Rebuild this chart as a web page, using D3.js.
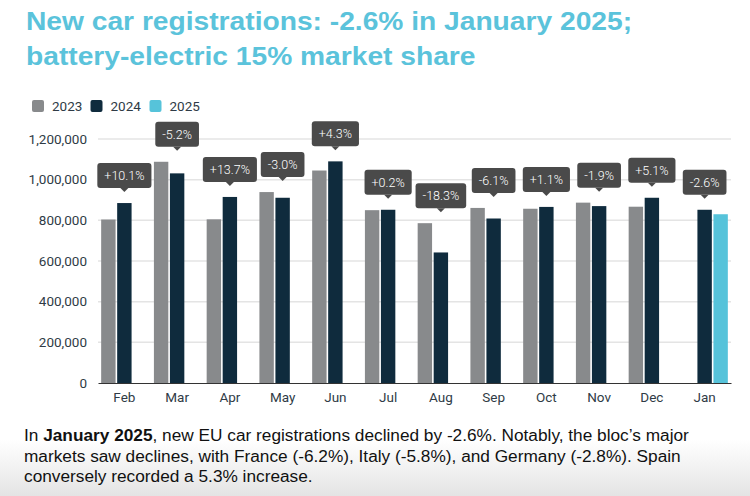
<!DOCTYPE html>
<html>
<head>
<meta charset="utf-8">
<script src="https://cdn.jsdelivr.net/npm/d3@7"></script>
<style>
  html, body { margin: 0; padding: 0; background: #fff; }
  svg { display: block; }
</style>
</head>
<body>
<div id="chart"></div>
<script>
// chart data
const months = ["Feb", "Mar", "Apr", "May", "Jun", "Jul", "Aug", "Sep", "Oct", "Nov", "Dec", "Jan"];
const series = ["2023", "2024", "2025"];
const values2023 = [804000, 1088000, 805000, 939000, 1045000, 850000, 786000, 861000, 857000, 887000, 867000, null];
const values2024 = [885000, 1031000, 915000, 911000, 1090000, 852000, 642000, 809000, 866000, 870000, 911000, 852000];
const values2025 = [null, null, null, null, null, null, null, null, null, null, null, 830000];
const changes = ["+10.1%", "-5.2%", "+13.7%", "-3.0%", "+4.3%", "+0.2%", "-18.3%", "-6.1%", "+1.1%", "-1.9%", "+5.1%", "-2.6%"];
const yTicks = [0, 200000, 400000, 600000, 800000, 1000000, 1200000];

const titleLines = ["New car registrations: -2.6% in January 2025;", "battery-electric 15% market share"];

const width = 750, height = 496;
const margin = { top: 139, right: 19, bottom: 113, left: 98 };
const colors = { "2023": "#888a8c", "2024": "#0f2b3d", "2025": "#56c3da" };

const svg = d3.select("#chart").append("svg")
  .attr("width", width)
  .attr("height", height);

// faint grey fade at the bottom
const defs = svg.append("defs");
const grad = defs.append("linearGradient")
  .attr("id", "fade").attr("x1", 0).attr("x2", 0).attr("y1", 0).attr("y2", 1);
grad.append("stop").attr("offset", "0%").attr("stop-color", "#ffffff");
grad.append("stop").attr("offset", "100%").attr("stop-color", "#e4e4e4");
svg.append("rect")
  .attr("x", 0).attr("y", 440).attr("width", width).attr("height", height - 440)
  .attr("fill", "url(#fade)");

// title (the original is set a bit wider than Liberation Sans)
svg.append("text")
  .attr("transform", "translate(26,0) scale(1.128,1)")
  .attr("font-family", "'Liberation Sans', Arial, sans-serif")
  .attr("font-weight", "bold")
  .attr("font-size", 25)
  .attr("fill", "#5bc3db")
  .selectAll("tspan")
  .data(titleLines)
  .join("tspan")
  .attr("x", 0)
  .attr("y", (d, i) => 30 + i * 35)
  .text(d => d);

// rows of data per month
const rows = months.map((m, i) => ({
  month: m,
  change: changes[i],
  vals: [
    { key: "2023", value: values2023[i] },
    { key: "2024", value: values2024[i] },
    { key: "2025", value: values2025[i] }
  ]
}));

const x0 = d3.scaleBand()
  .domain(months)
  .range([margin.left, width - margin.right])
  .paddingInner(0.12)
  .paddingOuter(0.06);

const x1 = d3.scaleBand()
  .domain(series)
  .range([0, x0.bandwidth()])
  .paddingInner(0.1);

const y = d3.scaleLinear()
  .domain([0, 1200000])
  .range([height - margin.bottom, margin.top]);

// grid lines
svg.append("g")
  .selectAll("line")
  .data(yTicks.filter(d => d > 0))
  .join("line")
  .attr("x1", margin.left)
  .attr("x2", width - margin.right)
  .attr("y1", d => y(d))
  .attr("y2", d => y(d))
  .attr("stroke", "#e4e4e4")
  .attr("stroke-width", 1.5);

// y axis labels
const yAxis = svg.append("g")
  .attr("transform", `translate(${margin.left},0)`)
  .call(d3.axisLeft(y).tickValues(yTicks).tickFormat(d3.format(",")).tickSize(0).tickPadding(11));
yAxis.select(".domain").remove();
yAxis.selectAll("text")
  .attr("font-family", "Roboto, sans-serif")
  .attr("font-size", 13.5)
  .attr("fill", "#2f3b46");

// bars
const groups = svg.append("g")
  .selectAll("g")
  .data(rows)
  .join("g")
  .attr("transform", d => `translate(${x0(d.month)},0)`);

groups.selectAll("rect")
  .data(d => d.vals.filter(v => v.value != null))
  .join("rect")
  .attr("x", d => x1(d.key))
  .attr("width", x1.bandwidth())
  .attr("y", d => y(d.value))
  .attr("height", d => y(0) - y(d.value))
  .attr("fill", d => colors[d.key]);

// x axis
const xAxis = svg.append("g")
  .attr("transform", `translate(0,${y(0)})`)
  .call(d3.axisBottom(x0).tickSize(0).tickPadding(9));
xAxis.select(".domain").attr("stroke", "#333").attr("stroke-width", 1.2);
xAxis.selectAll("text")
  .attr("font-family", "Roboto, sans-serif")
  .attr("font-size", 13.5)
  .attr("fill", "#2f3b46");

// callouts with year-on-year change
const boxH = 25;
const callouts = svg.append("g")
  .selectAll("g")
  .data(rows)
  .join("g")
  .attr("transform", d => {
    const top = y(d3.max(d.vals, v => v.value));
    return `translate(${x0(d.month) + x0.bandwidth() / 2},${top - 15})`;
  });

const labels = callouts.append("text")
  .attr("text-anchor", "middle")
  .attr("y", -boxH / 2)
  .attr("dy", "0.35em")
  .attr("font-family", "Roboto, sans-serif")
  .attr("font-weight", 300)
  .attr("font-size", 12.5)
  .attr("fill", "#fff")
  .text(d => d.change);

labels.each(function () {
  const w = this.getComputedTextLength() + 14;
  const g = d3.select(this.parentNode);
  g.insert("path", "text")
    .attr("d", "M-4,0 L0,4 L4,0 Z")
    .attr("fill", "#4a4a4a");
  g.insert("rect", "text")
    .attr("x", -w / 2)
    .attr("y", -boxH)
    .attr("width", w)
    .attr("height", boxH)
    .attr("rx", 3)
    .attr("fill", "#4a4a4a");
});

// legend
const legend = svg.append("g").attr("transform", "translate(32,100)");
const legendX = [0, 58.5, 117.5];
series.forEach((s, i) => {
  legend.append("rect")
    .attr("x", legendX[i]).attr("y", 0)
    .attr("width", 12).attr("height", 12)
    .attr("rx", 2)
    .attr("fill", colors[s]);
  legend.append("text")
    .attr("x", legendX[i] + 20)
    .attr("y", 10.5)
    .attr("font-family", "Roboto, sans-serif")
    .attr("font-size", 13.5)
    .attr("fill", "#2f3b46")
    .text(s);
});

// note below the chart
const note = svg.append("text")
  .attr("font-family", "'Liberation Sans', Arial, sans-serif")
  .attr("font-size", 17.25)
  .attr("fill", "#111");
const noteLines = [
  [["In ", false], ["January 2025", true], [", new EU car registrations declined by -2.6%. Notably, the bloc\u2019s major", false]],
  [["markets saw declines, with France (-6.2%), Italy (-5.8%), and Germany (-2.8%). Spain", false]],
  [["conversely recorded a 5.3% increase.", false]]
];
noteLines.forEach((line, li) => {
  line.forEach((part, pi) => {
    const t = note.append("tspan")
      .attr("font-weight", part[1] ? "bold" : "normal")
      .text(part[0]);
    if (pi === 0) t.attr("x", 24).attr("y", 441 + li * 20.5);
  });
});
</script>
</body>
</html>
